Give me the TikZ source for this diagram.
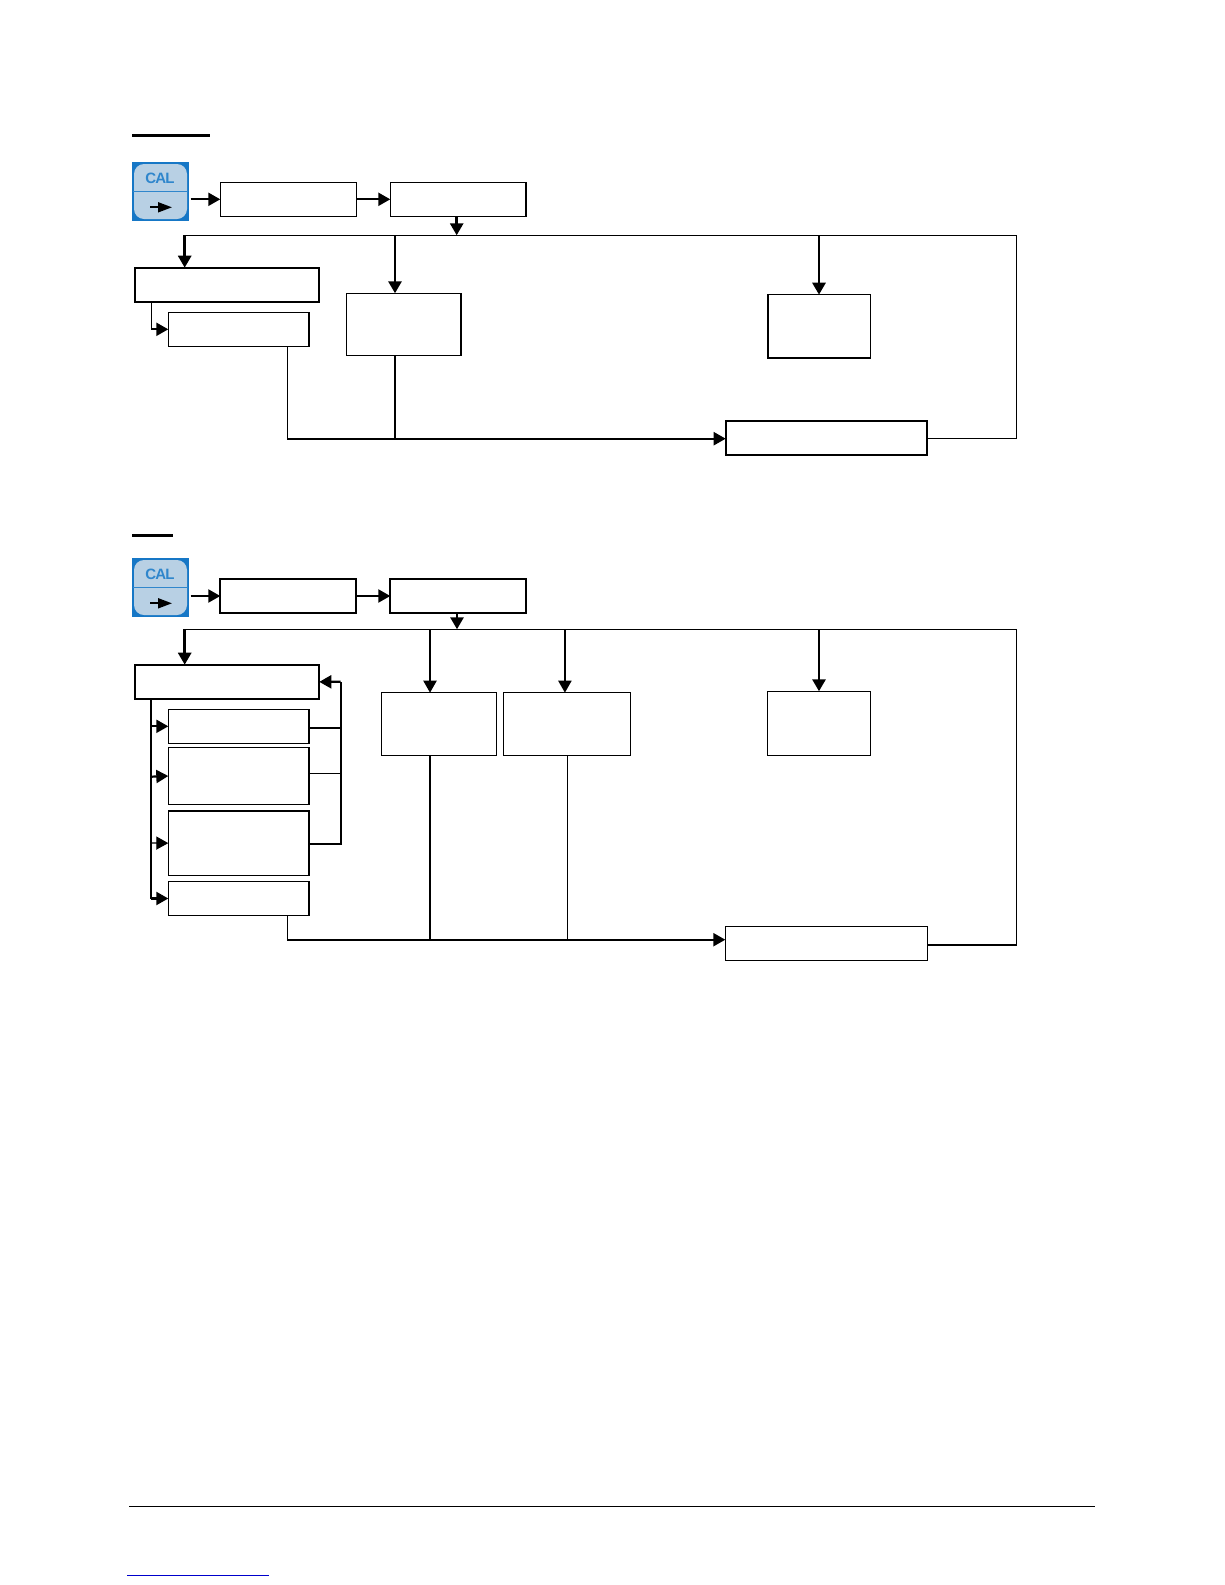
\documentclass[tikz,border=0pt]{standalone}
\usepackage{fontspec}
\setmainfont{Liberation Sans}
\usetikzlibrary{arrows.meta}
\tikzset{
  boxthin/.style={draw=black,line width=1.4pt,inner sep=0pt,outer sep=0pt},
  boxmid/.style={draw=black,line width=1.5pt,inner sep=0pt,outer sep=0pt},
  boxthick/.style={draw=black,line width=2.1pt,inner sep=0pt,outer sep=0pt},
  fine/.style={draw=black,line width=1.2pt,line cap=rect},
  medium/.style={draw=black,line width=2.2pt},
  heavy/.style={draw=black,line width=2.8pt},
  tip/.style={-{Triangle[length=12pt,width=13pt]}},
  rulebar/.style={draw=black,line width=3pt},
  footrule/.style={draw=black,line width=1.3pt},
  linkrule/.style={draw=linkblue,line width=1.2pt},
  keybase/.style={fill=iconblue,draw=none,inner sep=0pt,outer sep=0pt,minimum width=56.5pt,minimum height=59pt},
  keyface/.style={fill=keylight,draw=none,rounded corners=10pt},
  keyline/.style={draw=keyrule,line width=1pt},
  keytext/.style={text=keyrule,font=\fontsize{15}{15}\bfseries\addfontfeature{LetterSpace=-5}\selectfont,inner sep=0pt},
  keyarrow/.style={draw=black,line width=1.8pt,-{Triangle[length=14pt,width=10pt]}}
}
\definecolor{iconblue}{HTML}{1677C6}
\definecolor{keylight}{HTML}{B8D0E4}
\definecolor{keyrule}{HTML}{2F86CC}
\definecolor{linkblue}{HTML}{0000CC}
\newcommand{\bx}[6]{\node[#6,minimum width={(#4-#2)*1pt},minimum height={(#5-#3)*1pt}] (#1) at ({(#2+#4)/2},{(#3+#5)/2}) {};}
\newcommand{\keyicon}[3]{%
  \node[keybase,anchor=north west] (#1) at (#2,#3) {};
  \fill[keyface] (#2+2,#3+2) rectangle (#2+55,#3+57);
  \draw[keyline] (#2+1,#3+29.6) -- (#2+55.5,#3+29.6);
  \node[keytext] (#1cal) at (#2+28,#3+16) {CAL};
  \coordinate (#1a) at (#2+18,#3+45.3);
  \coordinate (#1b) at (#2+40,#3+45.3);
  \draw[keyarrow] (#1a) -- (#1b);
}
\begin{document}
\begin{tikzpicture}[x=1pt,y=-1pt]
\useasboundingbox (0,0) rectangle (1225,1585);
\fill[white] (0,0) rectangle (1225,1585);

% ---------- section 1 ----------
\coordinate (u1a) at (132,135.3); \coordinate (u1b) at (210,135.3);
\draw[rulebar] (u1a) -- (u1b);
\keyicon{ica}{132}{162}
\bx{A1}{220.3}{182.3}{356.3}{216.3}{boxthin}
\bx{A2}{390.3}{182.3}{526}{216.3}{boxmid}
\bx{B}{134.7}{267.7}{319.3}{301.7}{boxthick}
\bx{C}{168.3}{312.3}{309}{346.3}{boxmid}
\bx{D}{346.7}{293.3}{461}{355.3}{boxmid}
\bx{E}{768}{294.7}{870.3}{358}{boxmid}
\bx{F}{725.7}{421}{927.3}{455}{boxthick}

\coordinate (bl) at (184.7,235.3);
\coordinate (bi) at (456.7,235.3);
\coordinate (bd) at (395,235.3);
\coordinate (be) at (819,235.3);
\coordinate (br) at (1016.7,235.3);
\coordinate (t1) at (151.7,329.3);
\coordinate (k1) at (287.3,438.7);
\coordinate (k2) at (395,438.7);
\coordinate (k3) at (927.3,438.7);
\coordinate (k4) at (1016.7,438.7);

\draw[medium,tip] ([xshift=2pt]ica.east |- A1.west) -- (A1.west);
\draw[medium,tip] (A1.east) -- (A2.west);
\draw[heavy,tip] (A2.south -| bi) -- (bi);
\draw[fine] (bl) -- (br) -- (k4) -- (k3);
\draw[heavy,tip] (bl) -- (bl |- B.north);
\draw[heavy,tip] (bd) -- (bd |- D.north);
\draw[heavy,tip] (be) -- (be |- E.north);
\draw[fine] (B.south -| t1) -- (t1);
\draw[medium,tip] (t1) -- (C.west);
\draw[fine] (C.south -| k1) -- (k1);
\draw[heavy] (D.south -| k2) -- (k2);
\draw[medium,tip] (k1) -- (F.west |- k1);

% ---------- section 2 ----------
\coordinate (u2a) at (132,535.3); \coordinate (u2b) at (173,535.3);
\draw[rulebar] (u2a) -- (u2b);
\keyicon{icb}{132}{558}
\bx{G1}{220.3}{579}{356.3}{613}{boxthick}
\bx{G2}{390.3}{579}{526}{613}{boxthick}
\bx{P}{134.7}{664.7}{319.3}{699}{boxthick}
\bx{S1}{168.3}{709.3}{309}{743.3}{boxmid}
\bx{S2}{168.3}{747.7}{309}{804.3}{boxmid}
\bx{S3}{168.3}{811}{309}{875.3}{boxmid}
\bx{S4}{168.3}{881.7}{309}{915.3}{boxmid}
\bx{H1}{381.3}{692.7}{496.3}{755.3}{boxmid}
\bx{H2}{503.7}{692.7}{630.5}{755.3}{boxmid}
\bx{J}{767.7}{691.3}{870.3}{755.3}{boxmid}
\bx{Q}{725.3}{926.3}{927.3}{960.3}{boxmid}

\coordinate (cl) at (184.7,629.3);
\coordinate (ci) at (457,629.3);
\coordinate (ch) at (430,629.3);
\coordinate (cg) at (564.9,629.3);
\coordinate (cj) at (819,629.3);
\coordinate (cr) at (1016.7,629.3);
\coordinate (m1) at (151,726.3);
\coordinate (m2) at (151,776.7);
\coordinate (m3) at (151,843);
\coordinate (m4) at (151,898.5);
\coordinate (n0) at (340.7,681.8);
\coordinate (n1) at (340.7,727.7);
\coordinate (n2) at (340.7,773.3);
\coordinate (n3) at (340.7,843.7);
\coordinate (q1) at (287.3,939.7);
\coordinate (q2) at (430,939.7);
\coordinate (q3) at (567.3,939.7);
\coordinate (q4) at (725.3,939.7);
\coordinate (q5) at (1016.7,944.7);
\coordinate (q6) at (927.3,944.7);

\draw[medium,tip] ([xshift=2pt]icb.east |- G1.west) -- (G1.west);
\draw[medium,tip] (G1.east) -- (G2.west);
\draw[heavy,tip] (G2.south -| ci) -- (ci);
\draw[fine] (cl) -- (cr) -- (q5);
\draw[medium] (q6) -- (q5);
\draw[heavy,tip] (cl) -- (cl |- P.north);
\draw[medium,tip] (ch) -- (ch |- H1.north);
\draw[medium,tip] (cg) -- (cg |- H2.north);
\draw[heavy,tip] (cj) -- (cj |- J.north);
\draw[fine] (P.south -| m1) -- (m4);
\draw[medium,tip] (m1) -- (S1.west);
\draw[medium,tip] (m2) -- (S2.west);
\draw[fine,tip] (m3) -- (S3.west);
\draw[medium,tip] (m4) -- (S4.west);
\draw[medium] (S1.east |- n1) -- (n1);
\draw[fine] (S2.east |- n2) -- (n2);
\draw[medium] (S3.east |- n3) -- (n3) -- (n0);
\draw[medium,tip] (n0) -- (P.east);
\draw[fine] (S4.south -| q1) -- (q1);
\draw[medium] (H1.south -| q2) -- (q2);
\draw[fine] (H2.south -| q3) -- (q3);
\draw[medium,tip] (q1) -- (q4);

% ---------- footer ----------
\coordinate (fa) at (129,1506.3); \coordinate (fb) at (1095,1506.3);
\draw[footrule] (fa) -- (fb);
\coordinate (la) at (127,1575.3); \coordinate (lb) at (269,1575.3);
\draw[linkrule] (la) -- (lb);
\end{tikzpicture}
\end{document}
